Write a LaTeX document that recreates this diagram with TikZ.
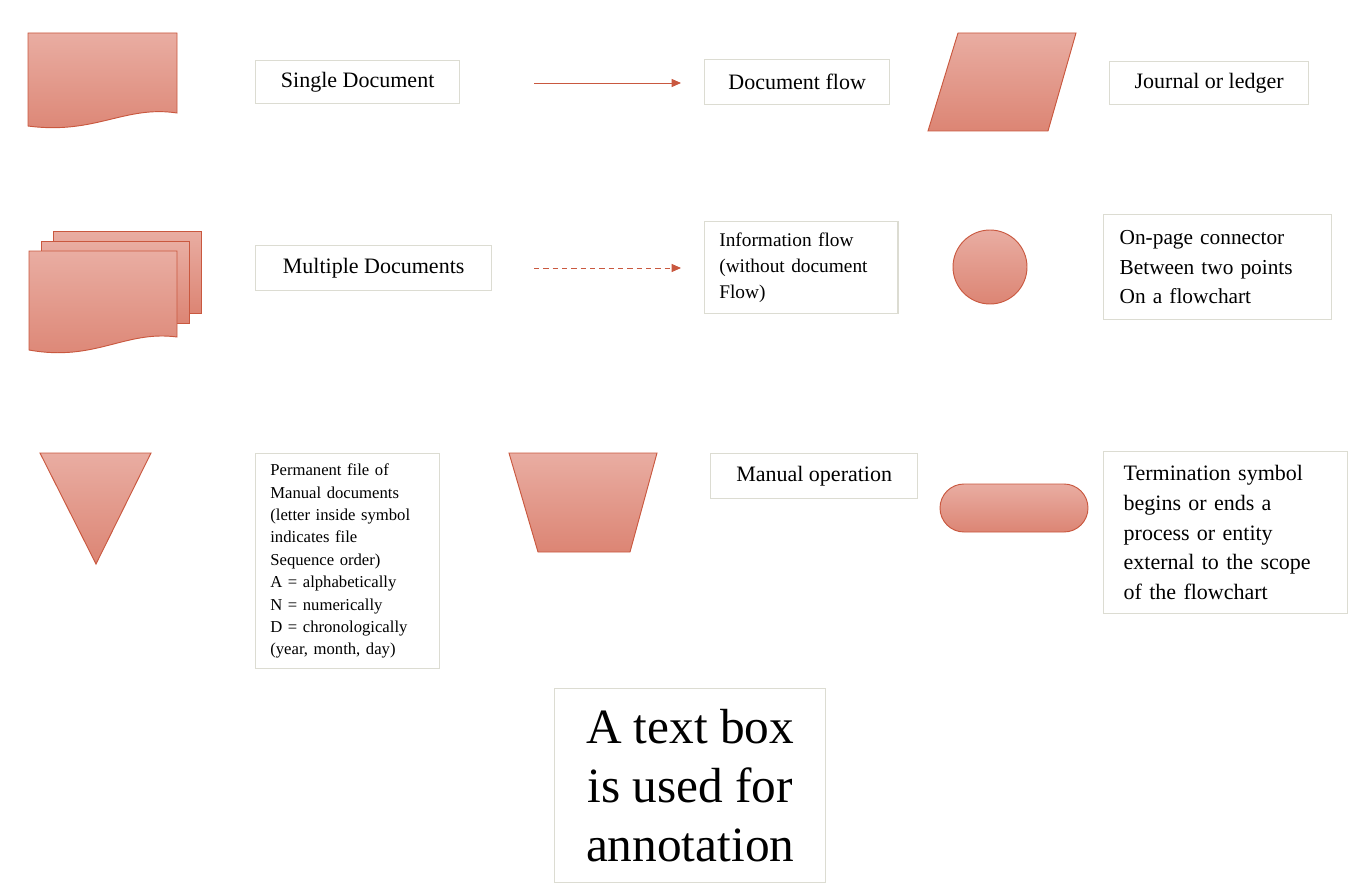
\documentclass[tikz,border=0pt]{standalone}
\usepackage{fontspec}
\setmainfont{Liberation Serif}
\usetikzlibrary{arrows.meta}
\definecolor{shtop}{HTML}{E9ADA2}
\definecolor{shbot}{HTML}{DC8574}
\definecolor{shline}{HTML}{C9583F}
\definecolor{boxline}{HTML}{DCDCD2}
\begin{document}
\begin{tikzpicture}[x=0.75pt,y=-0.75pt,
  sym/.style={draw=shline,line width=0.7pt,top color=shtop,bottom color=shbot,shading angle=0},
  tb/.style={draw=boxline,line width=1pt,rectangle,inner sep=0pt,anchor=north west,font=\fontsize{16.5}{20}\selectfont},
  ml/.style={align=left,inner xsep=15pt},
  flow/.style={draw=shline,line width=0.7pt,-{Triangle[length=7pt,width=6pt]}}]
\useasboundingbox (0,0) rectangle (1354,892);
% symbols
\path[sym] (28,33) -- (177,33) -- (177,113) .. controls (125,105) and (95,135) .. (28,126) -- cycle;
\path[sym] (53,231) -- (201,231) -- (201,313) -- (53,313) -- cycle;
\path[sym] (41,241) -- (189,241) -- (189,323) -- (41,323) -- cycle;
\path[sym] (29,251) -- (177,251) -- (177,337) .. controls (125,330) and (95,362) .. (29,350) -- cycle;
\path[sym] (958,33) -- (1076,33) -- (1048,131) -- (928,131) -- cycle;
\path[sym] (990,267) circle[radius=37];
\path[sym] (40,453) -- (151,453) -- (96,564) -- cycle;
\path[sym] (509,453) -- (657,453) -- (630,552) -- (538,552) -- cycle;
\path[sym,rounded corners=18pt] (940,484) rectangle (1088,532);
% connectors
\coordinate (a1) at (534,83); \coordinate (a2) at (681,83);
\coordinate (b1) at (534,268); \coordinate (b2) at (681,268);
\draw[flow] (a1) -- (a2);
\draw[flow,dash pattern=on 4pt off 3pt] (b1) -- (b2);
% text boxes
\node[tb,minimum width=153pt,minimum height=32.25pt] (t1) at (255,60) {Single Document};
\node[tb,minimum width=138.75pt,minimum height=33.75pt] (t2) at (704,59) {Document flow};
\node[tb,minimum width=149.25pt,minimum height=32.25pt] (t3) at (1109,61) {Journal or ledger};
\node[tb,minimum width=177pt,minimum height=33.75pt] (t4) at (255,245) {Multiple Documents};
\node[tb,ml,inner xsep=11pt,text width=123pt,minimum height=69pt,font=\fontsize{14.5}{19.5}\selectfont] (t5) at (704,221) {Information flow\\(without document\\Flow)};
\node[tb,ml,inner xsep=12pt,text width=147pt,minimum height=78.75pt,font=\fontsize{16}{22}\selectfont] (t6) at (1103,214) {On-page connector\\Between two points\\On a flowchart};
\node[tb,ml,inner xsep=11pt,text width=116pt,minimum height=161.25pt,font=\fontsize{12.5}{16.8}\selectfont] (t7) at (255,453) {Permanent file of\\Manual documents\\(letter inside symbol\\indicates file\\Sequence order)\\A = alphabetically\\N = numerically\\D = chronologically\\(year, month, day)};
\node[tb,minimum width=155.25pt,minimum height=33.75pt] (t8) at (710,453) {Manual operation};
\node[tb,ml,inner xsep=15pt,text width=153pt,minimum height=121.5pt,font=\fontsize{16.5}{22.2}\selectfont] (t9) at (1103,451) {Termination symbol\\begins or ends a\\process or entity\\external to the scope\\of the flowchart};
\node[tb,align=center,minimum width=203.25pt,minimum height=145.5pt,font=\fontsize{37}{44}\selectfont] (t10) at (554,688) {A text box\\is used for\\annotation};
\end{tikzpicture}
\end{document}
